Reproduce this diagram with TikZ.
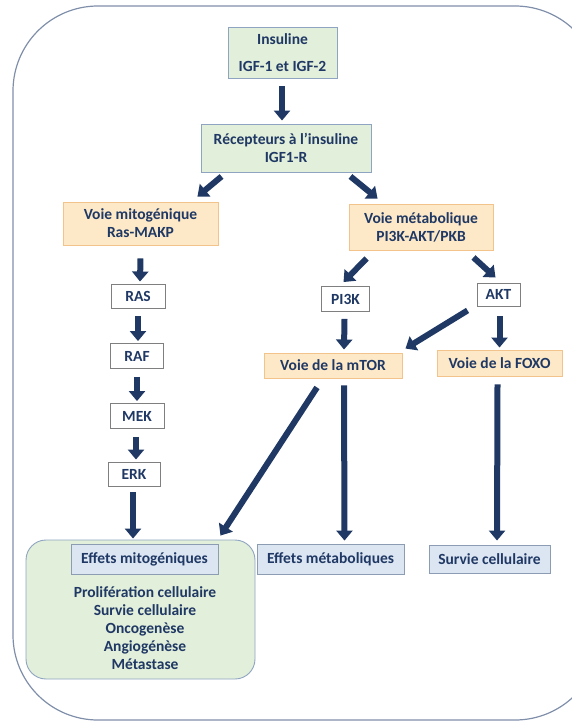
\documentclass[tikz,border=0pt]{standalone}
\usepackage{fontspec}
\setmainfont{Carlito}
\usetikzlibrary{arrows.meta,calc}
\definecolor{navy}{HTML}{1F3864}
\definecolor{gfill}{HTML}{E2EFDA}
\definecolor{gdraw}{HTML}{8EA4C0}
\definecolor{ofill}{HTML}{FDE9C8}
\definecolor{odraw}{HTML}{F2C38A}
\definecolor{bfill}{HTML}{DCE6F2}
\definecolor{bdraw}{HTML}{8C9DB3}
\definecolor{wdraw}{HTML}{7F7F7F}
\definecolor{frame}{HTML}{7F8FAA}
\tikzset{
  box/.style={inner sep=0pt, align=center, text=navy, font=\bfseries\fontsize{15.5}{18}\selectfont, line width=0.9pt},
  gbox/.style={box, fill=gfill, draw=gdraw},
  obox/.style={box, fill=ofill, draw=odraw},
  bbox/.style={box, fill=bfill, draw=bdraw},
  wbox/.style={box, fill=white, draw=wdraw},
  arr/.style={draw=navy, line width=6pt, -{Triangle[width=16pt,length=10pt]}},
}
\begin{document}
\begin{tikzpicture}[x=1pt,y=-1pt]
\useasboundingbox (0,0) rectangle (571,727);
\draw[frame, line width=1.2pt, rounded corners=85pt] (13,6) rectangle (600,720);

\node[gbox, minimum width=109pt, minimum height=51pt] (ins) at (282.5,52.5) {Insuline\\[9pt]IGF-1 et IGF-2};
\node[gbox, minimum width=170pt, minimum height=48pt] (rec) at (286,148) {Récepteurs à l’insuline\\IGF1-R};
\node[obox, minimum width=155pt, minimum height=43pt] (vmit) at (140.5,223.5) {Voie mitogénique\\Ras-MAKP};
\node[obox, minimum width=144pt, minimum height=46pt] (vmet) at (421,227) {Voie métabolique\\PI3K-AKT/PKB};
\node[wbox, minimum width=54pt, minimum height=24pt] (ras) at (138,296) {RAS};
\node[wbox, minimum width=53pt, minimum height=25pt] (raf) at (137,356) {RAF};
\node[wbox, minimum width=54pt, minimum height=25pt] (mek) at (137,416) {MEK};
\node[wbox, minimum width=52pt, minimum height=24pt] (erk) at (134,474) {ERK};
\node[wbox, minimum width=48pt, minimum height=25pt] (pi3k) at (345.5,299) {PI3K};
\node[wbox, minimum width=43pt, minimum height=23pt] (akt) at (498.5,294.5) {AKT};
\node[obox, minimum width=138pt, minimum height=25pt] (mtor) at (333,365.5) {Voie de la mTOR};
\node[obox, minimum width=125pt, minimum height=26pt] (foxo) at (499.5,363) {Voie de la FOXO};
\node[box, fill=gfill, draw=gdraw, rounded corners=20pt, minimum width=229pt, minimum height=139pt] (effm) at (140.5,609.5) {};
\node[bbox, minimum width=147pt, minimum height=30pt] (effmh) at (144.5,559) {Effets mitogéniques};
\node[box] (list) at (145,628) {Prolifération cellulaire\\Survie cellulaire\\Oncogenèse\\Angiogénèse\\Métastase};
\node[bbox, minimum width=147pt, minimum height=30pt] (effmet) at (330.5,559) {Effets métaboliques};
\node[bbox, minimum width=121pt, minimum height=28pt] (surv) at (489.5,559) {Survie cellulaire};

\draw[arr] ($(ins.south)+(-0.5,8)$) -- ($(rec.north)+(-4,-3)$);
\draw[arr] ($(rec.south west)+(21,4)$) -- ($(vmit.north east)+(-21,-5)$);
\draw[arr] ($(rec.south east)+(-21,4)$) -- ($(vmet.north west)+(29,-5)$);
\draw[arr] ($(vmit.south)+(0,13)$) -- ($(ras.north)+(2,-2)$);
\draw[arr] ($(ras.south)+(0,8)$) -- ($(raf.north)+(1,-2)$);
\draw[arr] ($(raf.south)+(0,8)$) -- ($(mek.north)+(0,-2)$);
\draw[arr] ($(mek.south)+(-1,8)$) -- ($(erk.north)+(2,-2)$);
\draw[arr] ($(erk.south)+(-1,6)$) -- ($(effm.north)+(-7.5,-1)$);
\draw[arr] ($(vmet.south west)+(18,8)$) -- ($(pi3k.north)+(-2,-4)$);
\draw[arr] ($(vmet.south east)+(-20,7)$) -- ($(akt.north)+(-3,-5)$);
\draw[arr] ($(pi3k.south)+(-1,7)$) -- ($(mtor.north)+(11,-3)$);
\draw[arr] ($(akt.south west)+(-9,4)$) -- ($(mtor.north east)+(3,-4)$);
\draw[arr] ($(akt.south)+(1,10)$) -- ($(foxo.north)+(0,-2)$);
\draw[arr] ($(mtor.south)+(-16,9)$) -- ($(effm.north east)+(-35,-4)$);
\draw[arr] ($(mtor.south)+(11,7)$) -- ($(effmet.north)+(14,-3)$);
\draw[arr] ($(foxo.south)+(-2,8)$) -- ($(surv.north)+(7.5,-4)$);
\end{tikzpicture}
\end{document}
